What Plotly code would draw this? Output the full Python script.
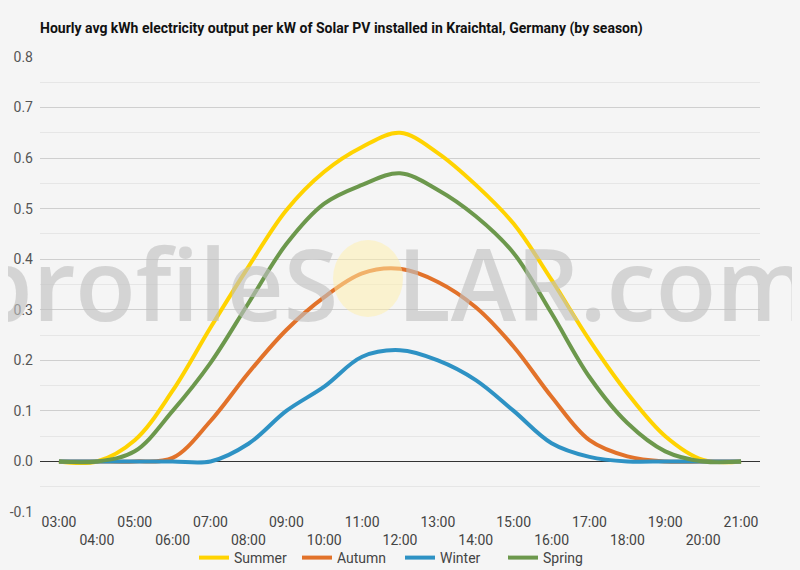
import plotly.graph_objects as go

# hourly averages, kWh per kW installed
hours = ["03:00", "04:00", "05:00", "06:00", "07:00", "08:00", "09:00", "10:00",
         "11:00", "12:00", "13:00", "14:00", "15:00", "16:00", "17:00", "18:00",
         "19:00", "20:00", "21:00"]

summer = [0.0, 0.0, 0.042, 0.14, 0.265, 0.385, 0.497, 0.573, 0.622, 0.65, 0.61,
          0.547, 0.47, 0.359, 0.24, 0.135, 0.05, 0.003, 0.0]
autumn = [0.0, 0.0, 0.0, 0.007, 0.08, 0.175, 0.26, 0.325, 0.372, 0.381, 0.355,
          0.305, 0.227, 0.128, 0.042, 0.01, 0.0, 0.0, 0.0]
winter = [0.0, 0.0, 0.0, 0.0, 0.0, 0.035, 0.10, 0.148, 0.207, 0.22, 0.20,
          0.161, 0.10, 0.036, 0.009, 0.0, 0.0, 0.0, 0.0]
spring = [0.0, 0.0, 0.02, 0.10, 0.195, 0.313, 0.43, 0.51, 0.547, 0.57, 0.537,
          0.485, 0.412, 0.293, 0.167, 0.076, 0.02, 0.0, 0.0]

y_ticks = [-0.1, 0.0, 0.1, 0.2, 0.3, 0.4, 0.5, 0.6, 0.7, 0.8]
y_labels = ["-0.1", "0.0", "0.1", "0.2", "0.3", "0.4", "0.5", "0.6", "0.7", "0.8"]

series = [("Summer", summer, "#FFD300"),
          ("Autumn", autumn, "#E2722A"),
          ("Winter", winter, "#2E92C4"),
          ("Spring", spring, "#6C984C")]

# every other label goes on a second row
tick_text = [h if i % 2 == 0 else "<br>" + h for i, h in enumerate(hours)]

# page body has an 8px margin, so the figure is a bit smaller than the window
OFF = 8
W, H = 800 - OFF, 570 - OFF
PL, PR, PT, PB = 40, 760, 57, 512   # plot area in window pixels
pw, ph = PR - PL, PB - PT

fig = go.Figure()
for name, vals, col in series:
    fig.add_trace(go.Scatter(x=hours, y=vals, name=name, mode="lines",
                             line=dict(color=col, width=4, shape="spline", smoothing=1)))

# profileSOLAR watermark
wm_font = dict(family="Open Sans", size=99, weight=600, color="rgba(192,192,192,0.62)")
fig.add_shape(type="circle", xref="paper", yref="paper", layer="above",
              x0=(333 - PL) / pw, x1=(403 - PL) / pw,
              y0=(PB - 317) / ph, y1=(PB - 240) / ph,
              fillcolor="rgba(255,240,170,0.5)", line_width=0)
fig.add_annotation(text="profileS", xref="paper", yref="paper",
                   x=(340 - PL) / pw, y=(PB - 282) / ph,
                   xanchor="right", yanchor="middle", showarrow=False, font=wm_font)
fig.add_annotation(text="LAR.com", xref="paper", yref="paper",
                   x=(395 - PL) / pw, y=(PB - 282) / ph,
                   xanchor="left", yanchor="middle", showarrow=False, font=wm_font)

fig.update_layout(
    width=W, height=H,
    margin=dict(l=PL - OFF, r=800 - PR, t=PT - OFF, b=570 - PB, autoexpand=False),
    paper_bgcolor="#f5f5f5", plot_bgcolor="#f5f5f5",
    font=dict(family="Roboto", size=14, color="#555"),
    title=dict(text="<b>Hourly avg kWh electricity output per kW of Solar PV installed in Kraichtal, Germany (by season)</b>",
               x=(40 - OFF) / W, xanchor="left", y=1 - (28 - OFF) / H, yanchor="middle",
               font=dict(family="Roboto", size=14, color="#111")),
    legend=dict(orientation="h", x=0.5, xanchor="center", y=(PB - 558) / ph, yanchor="middle",
                font=dict(size=14, color="#444"), itemwidth=30, entrywidth=58,
                bgcolor="rgba(0,0,0,0)"),
    showlegend=True,
)
fig.update_xaxes(type="category", tickvals=hours, ticktext=tick_text, automargin=False,
                 range=[-0.5, 18.5], showgrid=False, ticks="", tickfont=dict(size=14, color="#444"))
fig.update_yaxes(range=[-0.1, 0.8], tickvals=y_ticks, ticktext=y_labels, automargin=False,
                 gridcolor="#cfcfcf", gridwidth=1,
                 minor=dict(dtick=0.05, showgrid=True, gridcolor="#e6e6e6"),
                 zeroline=True, zerolinecolor="#333", zerolinewidth=1,
                 tickfont=dict(size=14, color="#555"), ticklabelstandoff=6)

fig.write_html("out.html", post_script="document.body.style.background='#f5f5f5';")
